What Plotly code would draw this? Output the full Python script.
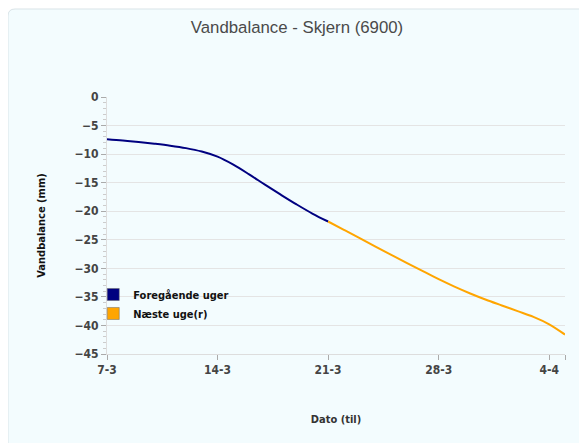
import plotly.graph_objects as go
import pandas as pd

dates = pd.date_range("2024-03-07", "2024-04-05", freq="D").strftime("%Y-%m-%d").tolist()
values = [-7.4, -7.62, -7.88, -8.18, -8.52, -8.95, -9.55, -10.45, -11.85, -13.55,
          -15.35, -17.1, -18.8, -20.4, -21.8, -23.25, -24.7, -26.2, -27.65, -29.1,
          -30.5, -31.9, -33.2, -34.4, -35.5, -36.5, -37.5, -38.5, -39.8, -41.6]
split = 14  # index of 21-3, where forecast starts
series_names = ["Foregående uger", "Næste uge(r)"]
series_colors = ["#000080", "#FFA500"]
tick_dates = ["2024-03-07", "2024-03-14", "2024-03-21", "2024-03-28", "2024-04-04", "2024-04-05"]
tick_labels = ["7-3", "14-3", "21-3", "28-3", "4-4", ""]

FONT = "Liberation Sans Narrow, DejaVu Sans Condensed"
tick_font = dict(family=FONT, size=12, color="#444444", weight="bold")

fig = go.Figure()
fig.add_trace(go.Scatter(x=dates[:split + 1], y=values[:split + 1], mode="lines",
                         line=dict(color=series_colors[0], width=2, shape="spline", smoothing=1),
                         showlegend=False, hoverinfo="x+y"))
fig.add_trace(go.Scatter(x=dates[split:], y=values[split:], mode="lines",
                         line=dict(color=series_colors[1], width=2, shape="spline", smoothing=1),
                         showlegend=False, hoverinfo="x+y"))
for name, col in zip(series_names, series_colors):
    fig.add_trace(go.Scatter(x=[None], y=[None], mode="markers", name=name,
                             marker=dict(symbol="square", size=12, color=col,
                                         line=dict(color="#666666", width=0.5))))

W, H = 579, 435
L, R, T, B = 99, 22, 89, 89
pw, ph = W - L - R, H - T - B
# outer panel (rounded), in figure pixels -> paper fractions
x0, y1 = (0 - L) / pw, (H - B - 1) / ph
x1, y0 = (W + 20 - L) / pw, (H - B - H - 20) / ph
rx, ry = 7 / pw, 7 / ph
path = (f"M {x0},{y0} L {x0},{y1 - ry} Q {x0},{y1} {x0 + rx},{y1} "
        f"L {x1},{y1} L {x1},{y0} Z")
fig.add_shape(type="path", path=path, xref="paper", yref="paper",
              fillcolor="#f3fcfe", line=dict(color="#d9e3e7", width=1), layer="below")

fig.update_layout(
    width=W, height=H,
    margin=dict(l=L, r=R, t=T, b=B),
    paper_bgcolor="white",
    plot_bgcolor="#fbfeff",
    title=dict(text="Vandbalance - Skjern (6900)", x=289 / W, xref="container", xanchor="center",
               y=1 - 19 / H, yref="container", yanchor="middle",
               font=dict(family="Liberation Sans", size=16.8, color="#4a4a4a")),
    legend=dict(x=-0.03, y=0.288, xanchor="left", yanchor="top",
                bgcolor="rgba(0,0,0,0)", tracegroupgap=0, itemwidth=30,
                font=dict(family=FONT, size=11, color="#111111", weight="bold")),
    xaxis=dict(type="date", range=[dates[0], dates[-1]],
               tickvals=tick_dates, ticktext=tick_labels,
               ticks="outside", ticklen=5, tickcolor="#aaaaaa",
               showline=True, linecolor="#dddddd", showgrid=False, zeroline=False,
               tickfont=tick_font,
               title=dict(text="Dato (til)", standoff=38,
                          font=dict(family=FONT, size=11, color="#333333", weight="bold"))),
    yaxis=dict(range=[-45, 0], dtick=5, tick0=0,
               ticks="outside", ticklen=5, tickcolor="#aaaaaa",
               showline=True, linecolor="#dddddd", zeroline=False,
               gridcolor="#e4e4e4", gridwidth=1,
               minor=dict(dtick=1, ticks="outside", ticklen=3, tickcolor="#cccccc", showgrid=False),
               tickfont=tick_font,
               title=dict(text="Vandbalance (mm)", standoff=26,
                          font=dict(family=FONT, size=11, color="#111111", weight="bold"))),
)

fig.write_html("out.html")
